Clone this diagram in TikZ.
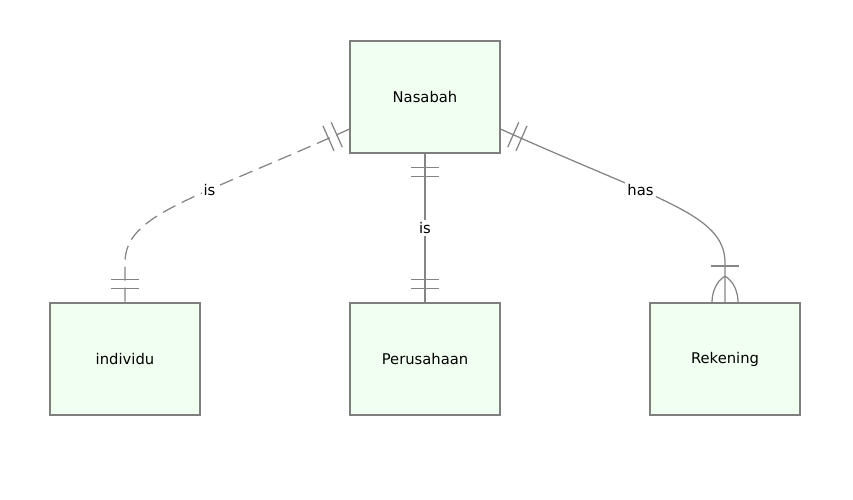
\documentclass[tikz,border=0pt]{standalone}
\usepackage{fontspec}
\usepackage{tikz}
\usetikzlibrary{positioning,decorations.markings}
\usepackage{xcolor}
\newfontfamily\diagfont{DejaVu Sans}
\definecolor{boxfill}{HTML}{F0FFF0}
\definecolor{boxline}{HTML}{7F7F7F}
\definecolor{linegray}{HTML}{858585}

\begin{document}
\begin{tikzpicture}[
    node distance=3.705cm,
    entity/.style={rectangle, draw=boxline, line width=1.3pt, fill=boxfill, minimum width=3.75cm, minimum height=2.8cm, align=center, font=\diagfont\fontsize{10.5}{12}\selectfont},
    link/.style={draw=linegray, line width=0.9pt},
    rellabel/.style={fill=white, inner sep=1.5pt, font=\diagfont\fontsize{10.5}{12}\selectfont},
    bar/.style={draw=linegray, line width=0.9pt, solid},
    onebothends/.style={postaction={decorate}, decoration={markings,
        mark=at position 0.3375cm with {\draw[bar] (0,-0.34cm) -- (0,0.34cm);},
        mark=at position 0.5625cm with {\draw[bar] (0,-0.34cm) -- (0,0.34cm);},
        mark=at position -0.3375cm with {\draw[bar] (0,-0.34cm) -- (0,0.34cm);},
        mark=at position -0.5625cm with {\draw[bar] (0,-0.34cm) -- (0,0.34cm);}}},
    onetomany/.style={postaction={decorate}, decoration={markings,
        mark=at position 0.3375cm with {\draw[bar] (0,-0.34cm) -- (0,0.34cm);},
        mark=at position 0.5625cm with {\draw[bar] (0,-0.34cm) -- (0,0.34cm);},
        mark=at position -0.9cm with {\draw[bar] (0,-0.34cm) -- (0,0.34cm);},
        mark=at position -0.65cm with {\draw[bar] (0,0) .. controls (0.15cm,0.25cm) and (0.45cm,0.325cm) .. (0.65cm,0.325cm);
            \draw[bar] (0,0) .. controls (0.15cm,-0.25cm) and (0.45cm,-0.325cm) .. (0.65cm,-0.325cm);}}}
]
    \useasboundingbox (0,0) rectangle (21.325,12.5);

    % Nasabah
    \node[entity] (nasabah) at (10.625,10.075) {Nasabah};

    % Perusahaan
    \node[entity, below=of nasabah] (perusahaan) {Perusahaan};

    % individu
    \node[entity, left=of perusahaan] (individu) {individu};

    % Rekening
    \node[entity, right=of perusahaan] (rekening) {Rekening};

    % Relations
    \draw[link, dash pattern=on 10pt off 5pt, onebothends] (nasabah.203.75) .. controls +(-4.0,-1.8) and +(0.025,1.2) .. node[rellabel, pos=0.37] {is} ([yshift=1.0cm]individu.north) -- (individu.north);
    \draw[link, onebothends] (nasabah) -- node[rellabel, midway] {is} (perusahaan);
    \draw[link, onetomany] (nasabah.-23.75) .. controls +(4.0,-1.8) and +(-0.025,1.2) .. node[rellabel, pos=0.37] {has} ([yshift=1.0cm]rekening.north) -- (rekening.north);
\end{tikzpicture}
\end{document}
